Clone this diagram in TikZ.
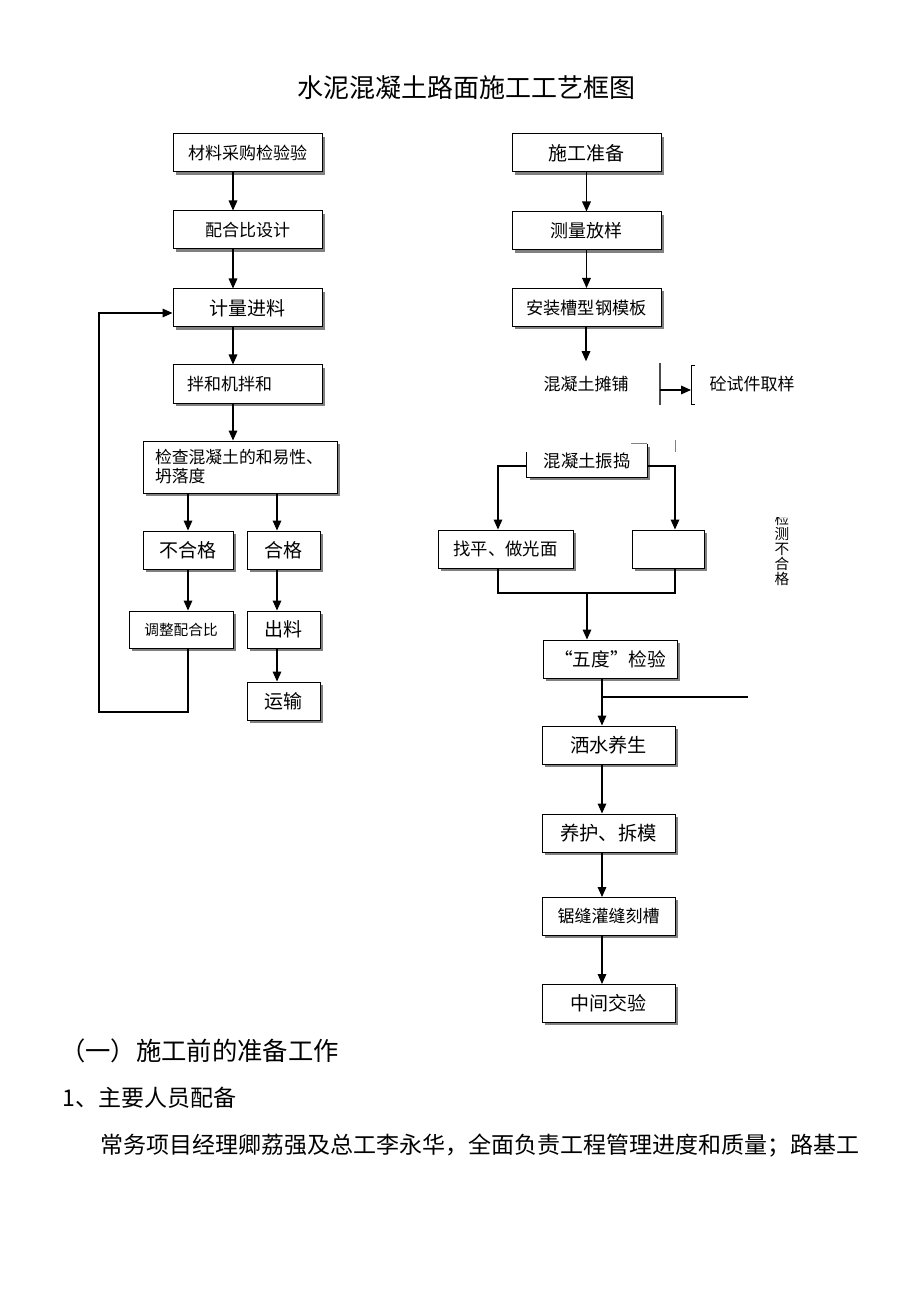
\documentclass[tikz,border=0pt]{standalone}
\usepackage{fontspec}
\setmainfont{Noto Sans CJK SC}
\usetikzlibrary{arrows.meta,shadows}

\begin{document}
\begin{tikzpicture}[x=0.75pt,y=0.75pt,yscale=-1,
  box/.style={draw, line width=0.75pt, fill=white, inner sep=0pt, minimum width=111.75pt, minimum height=28.5pt,
    drop shadow={shadow xshift=2.2pt, shadow yshift=-2.2pt, opacity=1, fill=black!50}},
  arr/.style={line width=0.85pt, -{Triangle[length=7.5pt,width=6.5pt]}},
  ln/.style={line width=0.85pt},
  fA/.style={font=\fontsize{12.75pt}{15pt}\selectfont},
  fB/.style={font=\fontsize{14.25pt}{17pt}\selectfont}]
\path[use as bounding box] (0,0) rectangle (920,1301);

% Title
\node[font=\fontsize{19.5pt}{23pt}\selectfont] (title) at (466,88) {水泥混凝土路面施工工艺框图};

% Left column
\node[box,fA] (mat) at (247.5,153) {材料采购检验验};
\node[box,fA] (mix) at (247.5,230) {配合比设计};
\node[box,fB] (meas) at (247.5,308) {计量进料};
\node[box,fA,text width=90.75pt,inner xsep=10.5pt,align=left] (stir) at (247.5,384) {拌和机拌和};
\node[box,font=\fontsize{12.6pt}{14.25pt}\selectfont,minimum width=145.5pt,minimum height=39pt,
  text width=127.5pt,inner xsep=9pt,align=left] (chk) at (240,467) {检查混凝土的和易性、\\坍落度};
\node[box,fB,minimum width=67.5pt] (bad) at (188,550) {不合格};
\node[box,fB,minimum width=54.75pt] (good) at (283.5,550) {合格};
\node[box,font=\fontsize{11pt}{13pt}\selectfont,minimum width=78pt,minimum height=27.75pt] (adj) at (181,629.5) {调整配合比};
\node[box,fB,minimum width=54.75pt,minimum height=27.75pt] (out) at (283.5,629.5) {出料};
\node[box,fB,minimum width=54.75pt] (trans) at (283.5,701) {运输};

\draw[arr] (mat.south -| 233,0) -- (mix.north -| 233,0);
\draw[arr] (mix.south -| 233,0) -- (meas.north -| 233,0);
\draw[arr] (meas.south -| 233,0) -- (stir.north -| 233,0);
\draw[arr] (stir.south -| 233,0) -- (chk.north -| 233,0);
\draw[arr] (chk.south -| bad.north) -- (bad.north);
\draw[arr] (chk.south -| 277,0) -- (good.north -| 277,0);
\draw[arr] (bad.south) -- (adj.north -| bad.south);
\draw[arr] (good.south -| 277,0) -- (out.north -| 277,0);
\draw[arr] (out.south -| 277,0) -- (trans.north -| 277,0);
% back to metering
\draw[arr] (adj.south -| bad.south) |- (99,712) |- (meas.west |- 0,313);

% Right column
\node[box,fB] (prep) at (586.5,153) {施工准备};
\node[box,font=\fontsize{13.5pt}{16pt}\selectfont] (survey) at (586.5,231) {测量放样};
\node[box,font=\fontsize{12.9pt}{15pt}\selectfont] (form) at (586.5,307.5) {安装槽型钢模板};
\node[fA,inner sep=0pt] (pave) at (586,384) {混凝土摊铺};

\draw[arr] (prep.south) -- (survey.north);
\draw[arr] (survey.south) -- (form.north);
\draw[arr,shorten >=11pt] (form.south -| pave.north) -- (pave.north);

% sampling
\coordinate (bar) at (660,390);
\coordinate (brk) at (691,390);
\draw[line width=1.3pt,black!70] (660,363) -- (660,405);
\draw[line width=0.6pt] (695,365) -- (691,365) -- (691,404) -- (695,404);
\draw[arr] (bar) -- (brk);
\node[fA,anchor=west] (sample) at (705,384) {砼试件取样};

% vibrating
\node[fill=white,inner sep=0pt,minimum width=90pt,minimum height=24.75pt,font=\fontsize{13pt}{15pt}\selectfont,
  drop shadow={shadow xshift=2.2pt, shadow yshift=-2.2pt, opacity=1, fill=black!50}] (vib) at (587,460.5) {混凝土振捣};
\draw[line width=0.75pt] (vib.west |- 0,452) -- (vib.south west) -- (vib.south east) -- (vib.north east);
\draw[line width=0.6pt,black!50] (vib.north east) -- ++(-16,0);
\draw[line width=0.6pt,black!50] (675,440) -- (675,452);

\node[box,font=\fontsize{13pt}{15pt}\selectfont,minimum width=101.25pt] (flat) at (505.5,549) {找平、做光面};
\node[box,minimum width=54pt] (blank) at (668,549) {};

\draw[arr] (vib.west |- 0,466) -| (flat.north -| 498,0);
\draw[arr] (vib.east |- 0,466) -| (blank.north -| 675,0);
\draw[ln] (flat.south -| 498,0) -- (498,593) -| (blank.south -| 675,0);

\node[box,font=\fontsize{14pt}{17pt}\selectfont,minimum width=100.5pt] (five) at (610,659) {“五度”检验};
\coordinate (join) at (587,593);
\draw[arr] (join) -- (five.north -| join);

\node[box,font=\fontsize{14.4pt}{17pt}\selectfont,minimum width=99.75pt] (water) at (608.5,745) {洒水养生};
\node[box,font=\fontsize{14.5pt}{17pt}\selectfont,minimum width=99.75pt] (cure) at (608.5,833) {养护、拆模};
\node[box,fA,minimum width=99.75pt] (saw) at (608.5,916.5) {锯缝灌缝刻槽};
\node[box,fB,minimum width=99.75pt] (mid) at (608.5,1003.5) {中间交验};

\draw[arr] (five.south -| 602,0) -- (water.north -| 602,0);
\draw[ln] (602,697) -- (748,697);
\draw[arr] (water.south -| 602,0) -- (cure.north -| 602,0);
\draw[arr] (cure.south -| 602,0) -- (saw.north -| 602,0);
\draw[arr] (saw.south -| 602,0) -- (mid.north -| 602,0);

% vertical note, top cut off
\begin{scope}
\clip (760,517) rectangle (805,600);
\node[font=\fontsize{11pt}{11.25pt}\selectfont,align=center,inner sep=0pt] (fail) at (782,549) {检\\测\\不\\合\\格};
\end{scope}

% Text below
\node[font=\fontsize{19pt}{22pt}\selectfont,anchor=west,inner sep=0pt] (sec) at (60,1051) {（一）施工前的准备工作};
\node[font=\fontsize{17.25pt}{20pt}\selectfont,anchor=west,inner sep=0pt] (item) at (62,1098) {1、主要人员配备};
\node[font=\fontsize{17.25pt}{20pt}\selectfont,anchor=west,inner sep=0pt] (para) at (100,1146) {常务项目经理卿荔强及总工李永华，全面负责工程管理进度和质量；路基工};

\end{tikzpicture}
\end{document}
